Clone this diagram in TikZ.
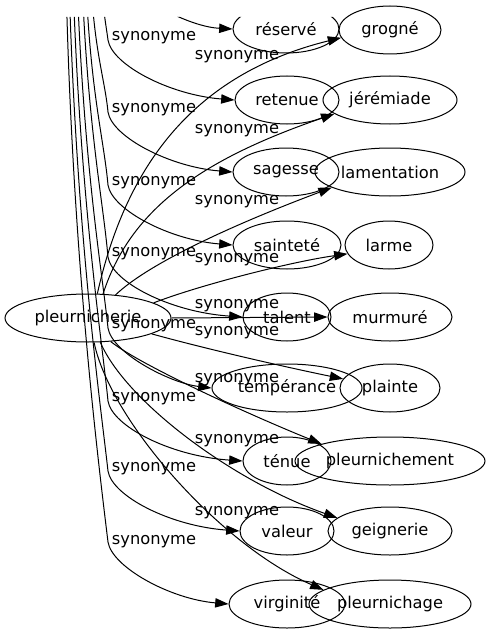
\documentclass[tikz,border=0pt]{standalone}
\usepackage{fontspec}
\setmainfont{DejaVu Sans}
\usetikzlibrary{arrows.meta,shapes.geometric}
\begin{document}
\begin{tikzpicture}[x=0.75pt, y=-0.75pt, line width=0.75pt,
		>={Triangle[length=10pt,width=7pt]},
		every node/.style={font=\fontsize{12.2}{14}\selectfont},
		term/.style={draw, ellipse, inner sep=0pt, minimum height=36pt},
		lab/.style={inner sep=0pt}]
	\useasboundingbox (0,0) rectangle (490,635);
	\clip (0,17) -- (338,17) -- (338,0) -- (490,0) -- (490,635) -- (0,635) -- cycle;
	% words
	\node (pleurnicherie) at (88,318) [term, minimum width=124.5pt] {pleurnicherie};
	\node (reserve) at (286,29) [term, minimum width=79.5pt] {réservé};
	\node (retenue) at (287,100) [term, minimum width=78pt] {retenue};
	\node (sagesse) at (286,172) [term, minimum width=79.5pt] {sagesse};
	\node (saintete) at (287,245) [term, minimum width=81pt] {sainteté};
	\node (talent) at (287,317) [term, minimum width=66pt] {talent};
	\node (temperance) at (287,388) [term, minimum width=112.5pt] {tempérance};
	\node (tenue) at (287,461) [term, minimum width=66pt] {ténue};
	\node (valeur) at (287,531) [term, minimum width=70.5pt] {valeur};
	\node (virginite) at (287,604) [term, minimum width=87pt] {virginité};
	\node (grogne) at (390,30) [term, minimum width=76.5pt] {grogné};
	\node (jeremiade) at (390,100) [term, minimum width=100.5pt] {jérémiade};
	\node (lamentation) at (390,172) [term, minimum width=112.5pt] {lamentation};
	\node (larme) at (389,245) [term, minimum width=66pt] {larme};
	\node (murmure) at (390,317) [term, minimum width=93pt] {murmuré};
	\node (plainte) at (390,388) [term, minimum width=75pt] {plainte};
	\node (pleurnichement) at (390,461) [term, minimum width=142.5pt] {pleurnichement};
	\node (geignerie) at (390,531) [term, minimum width=93pt] {geignerie};
	\node (pleurnichage) at (390,604) [term, minimum width=121.5pt] {pleurnichage};
	% edges coming down from above the frame
	\coordinate (upRes) at (120,-15);
	\coordinate (upRet) at (101,-20);
	\coordinate (upSag) at (91,-20);
	\coordinate (upSai) at (86,-20);
	\coordinate (upTal) at (82,-20);
	\coordinate (upTem) at (77,-20);
	\coordinate (upTen) at (73,-20);
	\coordinate (upVal) at (69,-20);
	\coordinate (upVir) at (66,-20);
	\draw[->] (upRes) .. controls (160,10) and (195,27) .. (reserve.west);
	\draw[->] (upRet) .. controls (103,10) and (106,25) .. (108,40) .. controls (112,65) and (170,95) .. (retenue.west);
	\draw[->] (upSag) .. controls (94,50) and (105,80) .. (108,112) .. controls (112,137) and (170,167) .. (sagesse.west);
	\draw[->] (upSai) .. controls (90,90) and (104,140) .. (108,185) .. controls (112,210) and (170,240) .. (saintete.west);
	\draw[->] (upTal) .. controls (88,130) and (103,200) .. (108,257) .. controls (112,282) and (170,312) .. (talent.west);
	\draw[->] (upTem) .. controls (84,170) and (102,270) .. (108,328) .. controls (112,353) and (170,383) .. (temperance.west);
	\draw[->] (upTen) .. controls (80,200) and (102,340) .. (108,401) .. controls (112,426) and (170,456) .. (tenue.west);
	\draw[->] (upVal) .. controls (76,230) and (100,400) .. (108,471) .. controls (112,496) and (170,526) .. (valeur.west);
	\draw[->] (upVir) .. controls (72,250) and (98,460) .. (108,542) .. controls (112,567) and (170,599) .. (virginite.west);
	% edges from pleurnicherie
	\draw[->] (pleurnicherie.69) .. controls (125,170) and (190,75) .. (grogne.189);
	\draw[->] (pleurnicherie.58) .. controls (130,210) and (200,160) .. (jeremiade.194);
	\draw[->] (pleurnicherie.40) .. controls (150,262) and (240,222) .. (lamentation.195);
	\draw[->] (pleurnicherie.13) .. controls (200,285) and (290,262) .. (larme.192);
	\draw[->] (pleurnicherie.east) -- (murmure.west);
	\draw[->] (pleurnicherie.346) .. controls (210,350) and (290,368) .. (plainte.169);
	\draw[->] (pleurnicherie.314) .. controls (140,365) and (250,415) .. (pleurnichement.166);
	\draw[->] (pleurnicherie.297) .. controls (125,400) and (230,480) .. (geignerie.166);
	\draw[->] (pleurnicherie.284) .. controls (110,420) and (220,545) .. (pleurnichage.168);
	% labels
	\node (lRet) at (154,38) [lab] {synonyme};
	\node (lSag) at (154,110) [lab] {synonyme};
	\node (lSai) at (154,183) [lab] {synonyme};
	\node (lTal) at (154,254) [lab] {synonyme};
	\node (lTem) at (154,326) [lab] {synonyme};
	\node (lTen) at (154,399) [lab] {synonyme};
	\node (lVal) at (154,469) [lab] {synonyme};
	\node (lVir) at (154,542) [lab] {synonyme};
	\node (lGro) at (237,57) [lab] {synonyme};
	\node (lJer) at (237,131) [lab] {synonyme};
	\node (lLam) at (237,202) [lab] {synonyme};
	\node (lLar) at (237,260) [lab] {synonyme};
	\node (lMur) at (237,306) [lab] {synonyme};
	\node (lPla) at (237,333) [lab] {synonyme};
	\node (lPln) at (237,380) [lab] {synonyme};
	\node (lGei) at (237,441) [lab] {synonyme};
	\node (lPlg) at (237,513) [lab] {synonyme};
\end{tikzpicture}
\end{document}
